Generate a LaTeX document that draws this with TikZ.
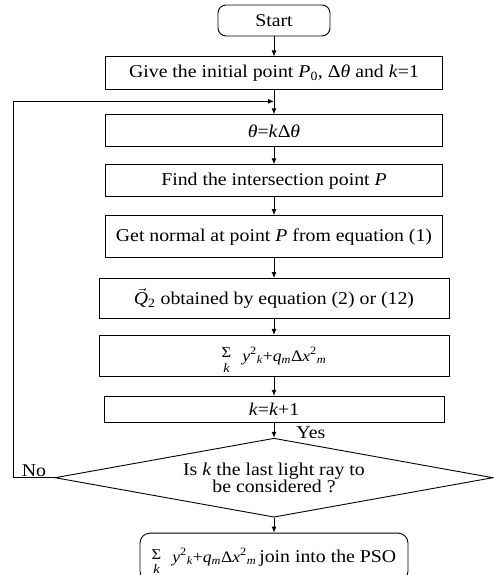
\documentclass[tikz,border=0pt]{standalone}
\usepackage{fontspec}
\setmainfont{Liberation Serif}[FakeStretch=1.1]
\usetikzlibrary{positioning,shapes.geometric,arrows.meta}

\newcommand{\sumk}{\smash{\raisebox{-11pt}{\shortstack{\fontsize{15}{15}\selectfont Σ\\[2pt]\fontsize{13}{13}\selectfont\itshape k}}}}
\newcommand{\ysum}{{\fontsize{16}{16}\selectfont\textit{y}\textsuperscript{2}\textsubscript{\textit{k}}+\textit{q}\textsubscript{\textit{m}}Δ\textit{x}\textsuperscript{2}\textsubscript{\textit{m}}}}

\begin{document}
\begin{tikzpicture}[x=1pt,y=1pt,line width=0.9pt,
    font=\fontsize{18}{17}\selectfont,
    >={Latex[length=6pt,width=5pt]},
    box/.style={draw,rectangle,inner sep=0pt,align=center},
    term/.style={box,rounded corners=8pt},
    decide/.style={draw,diamond,aspect=5.5,inner sep=0pt,align=center,
        minimum width=438pt,minimum height=79pt}]
        \useasboundingbox (0,0) rectangle (493,-575);
        \node(1)[term,minimum width=112pt,minimum height=31pt] at (274,-20.5) {Start};
        \node(2)[box,minimum width=337pt,minimum height=33pt,below=20pt of 1] {Give the initial point \textit{P}\textsubscript{0}, Δ\textit{θ} and \textit{k}=1};
        \coordinate[below=11pt of 2] (j);
        \node(3)[box,minimum width=337pt,minimum height=32pt,below=24pt of 2] {\textit{θ}=\textit{k}Δ\textit{θ}};
        \node(4)[box,minimum width=337pt,minimum height=32pt,below=17pt of 3] {Find the intersection point \textit{P}};
        \node(5)[box,minimum width=337pt,minimum height=42pt,below=18pt of 4] {Get normal at point \textit{P} from equation (1)};
        \node(6)[box,minimum width=350pt,minimum height=40pt,below=20pt of 5] {$\vec{\textit{Q}}$\textsubscript{2} obtained by equation (2) or (12)};
        \node(7)[box,minimum width=350pt,minimum height=41pt,below=16pt of 6] {\sumk\hspace{11pt}\ysum};
        \node(8)[box,minimum width=340pt,minimum height=26pt,below=19pt of 7] {\textit{k}=\textit{k}+1};
        \node(9)[decide,below=15pt of 8] {Is \textit{k} the last light ray to\\be considered ?};
        \node(10)[anchor=south west,inner sep=0pt] at ([xshift=22pt,yshift=-1pt]9.north) {Yes};
        \node(11)[term,rounded corners=10pt,minimum width=268pt,minimum height=48pt,below=15pt of 9] {\raisebox{2pt}{\sumk\hspace{11pt}\ysum\,join into the PSO}};

        \draw[->] (1) -- (2);
        \draw[->] (2) -- (3);
        \draw[->] (3) -- (4);
        \draw[->] (4) -- (5);
        \draw[->] (5) -- (6);
        \draw[->] (6) -- (7);
        \draw[->] (7) -- (8);
        \draw[->] (8) -- (9);
        \draw[->] (9) -- (11);
        \draw[->] (9.west) -- node[above,inner sep=1pt]{No} ++(-41,0) |- (j);
    \end{tikzpicture}
\end{document}
